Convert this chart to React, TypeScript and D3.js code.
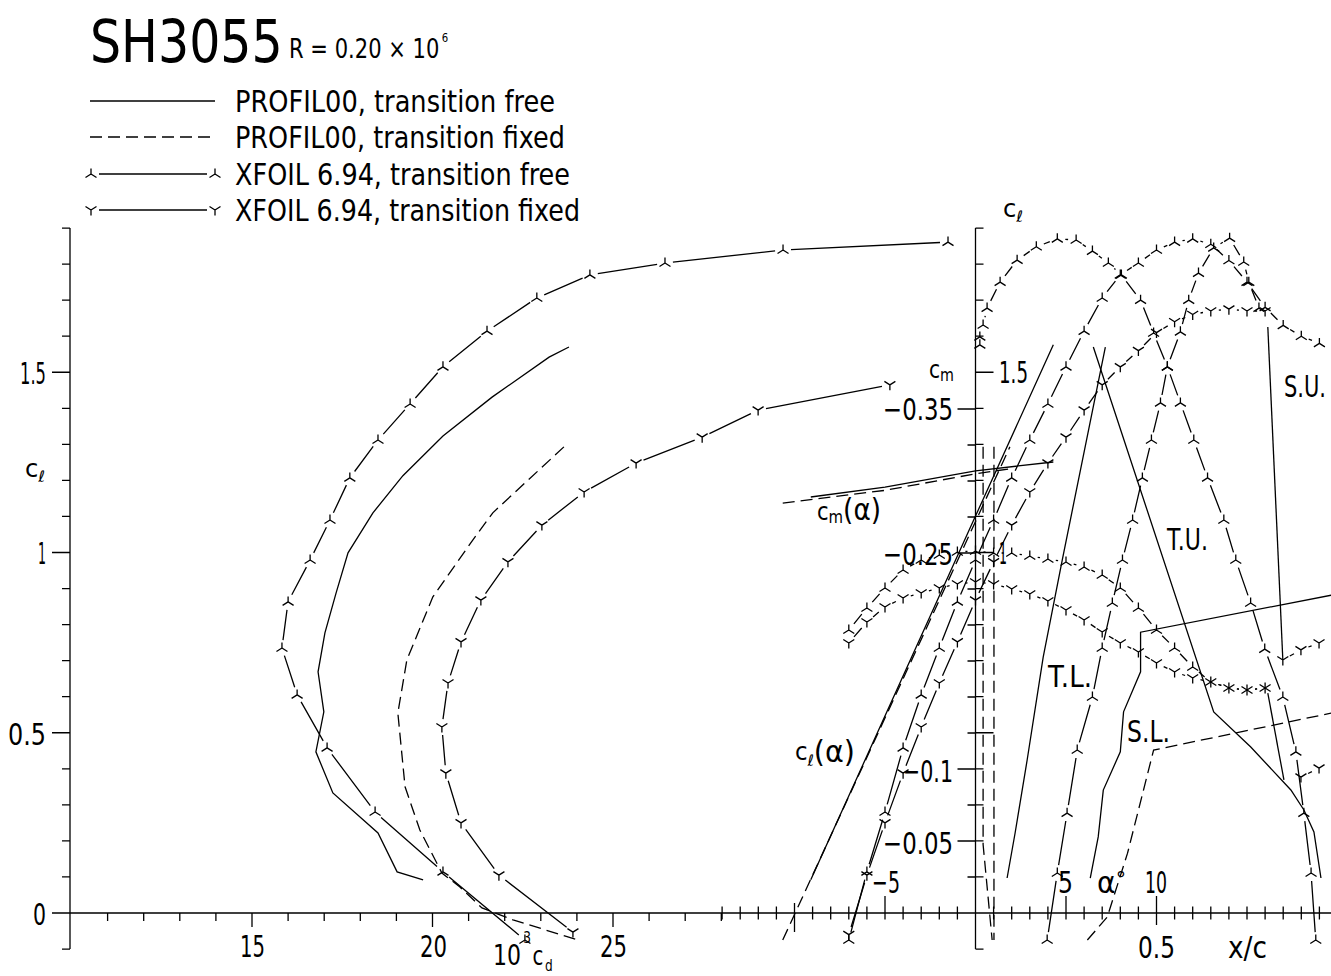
import React from "react";
import * as d3 from "d3";

const FONT = "DejaVu Sans";

// ---------------- DATA ----------------
// Drag polars: 10^3 cd vs cl
const pfFreePolarCd = [23.78, 23.23, 21.65, 20.29, 19.18, 18.35, 17.66, 17.33, 17.02, 16.83, 16.99, 16.77, 17.24, 18.49, 19.02, 19.74];
const pfFreePolarCl = [1.570, 1.542, 1.431, 1.323, 1.213, 1.110, 0.999, 0.888, 0.777, 0.669, 0.558, 0.447, 0.333, 0.222, 0.114, 0.092];

const pfFixPolarCd = [23.64, 21.67, 21.12, 20.01, 19.29, 19.04, 19.24, 19.65, 20.26, 20.76, 21.37, 22.23, 24.03];
const pfFixPolarCl = [1.293, 1.110, 1.035, 0.877, 0.702, 0.555, 0.350, 0.230, 0.111, 0.072, 0.014, -0.019, -0.075];

const xfFreePolarCd = [22.56, 20.29, 18.41, 17.08, 16.25, 15.83, 16.0, 16.61, 17.16, 17.71, 18.49, 19.38, 20.29, 21.51, 22.89, 24.36, 26.44, 29.71, 34.28];
const xfFreePolarCl = [-0.075, 0.114, 0.280, 0.458, 0.605, 0.735, 0.863, 0.979, 1.090, 1.207, 1.312, 1.412, 1.515, 1.614, 1.706, 1.770, 1.803, 1.839, 1.861];

const xfFixPolarCd = [23.89, 21.84, 20.79, 20.37, 20.26, 20.43, 20.79, 21.34, 22.09, 23.03, 24.20, 25.64, 27.47, 29.02, 32.67];
const xfFixPolarCl = [-0.053, 0.105, 0.250, 0.388, 0.516, 0.638, 0.752, 0.868, 0.974, 1.076, 1.168, 1.248, 1.320, 1.395, 1.465];

// Lift curves: alpha (deg) vs cl
const pfFreeAlpha = [-9.1, 0, 4.3];
const pfFreeClA = [0.092, 1.101, 1.576];
const pfFixAlpha = [-10.65, 1.9];
const pfFixClA = [-0.075, 1.293];

const xfFreeAlpha = [-7, -6, -5, -4, -3, -2, -1, 0, 1, 2, 3, 4, 5, 6, 7, 8, 9, 10, 11, 12, 13, 14, 15, 16, 17, 18, 19];
const xfFreeClA = [-0.075, 0.114, 0.280, 0.458, 0.605, 0.735, 0.863, 0.979, 1.090, 1.207, 1.312, 1.412, 1.515, 1.614, 1.706, 1.770, 1.803, 1.839, 1.861, 1.870, 1.855, 1.81, 1.75, 1.68, 1.63, 1.60, 1.58];
const xfFixAlpha = [-7, -6, -5, -4, -3, -2, -1, 0, 1, 2, 3, 4, 5, 6, 7, 8, 9, 10, 11, 12, 13, 14, 15, 16];
const xfFixClA = [-0.06, 0.105, 0.250, 0.388, 0.516, 0.638, 0.752, 0.868, 0.974, 1.076, 1.168, 1.248, 1.320, 1.395, 1.465, 1.515, 1.56, 1.61, 1.64, 1.66, 1.67, 1.675, 1.67, 1.67];

// Moment curves: alpha vs cm
const pfFreeCmAlpha = [-9.1, -5, 0, 4.3];
const pfFreeCm = [-0.2889, -0.2958, -0.3071, -0.3132];
const pfFixCmAlpha = [-10.65, -5, 0, 1.9];
const pfFixCm = [-0.2847, -0.2935, -0.3050, -0.3085];

const xfFreeCmAlpha = [-7, -6, -5, -4, -3, -2, -1, 0, 1, 2, 3, 4, 5, 6, 7, 8, 9, 10, 11, 12, 13, 14, 15, 16];
const xfFreeCm = [-0.1965, -0.2118, -0.2257, -0.2382, -0.2451, -0.2486, -0.2507, -0.2514, -0.2500, -0.2500, -0.2479, -0.2458, -0.2438, -0.2403, -0.2347, -0.2257, -0.2118, -0.1965, -0.1840, -0.1708, -0.1604, -0.1563, -0.1549, -0.1563];
const xfFixCmAlpha = [-7, -6, -5, -4, -3, -2, -1, 0, 1, 2, 3, 4, 5, 6, 7, 8, 9, 10, 11, 12, 13, 14, 15, 16];
const xfFixCm = [-0.1875, -0.2021, -0.2125, -0.2188, -0.2222, -0.2257, -0.2285, -0.2299, -0.2285, -0.2250, -0.2215, -0.2167, -0.2104, -0.2035, -0.1951, -0.1875, -0.1813, -0.1736, -0.1674, -0.1632, -0.1604, -0.1563, -0.1549, -0.1563];

// Transition / separation: x/c vs cl
const pfTUxc = [0.3255, 0.658, 0.7604, 0.8712, 0.9072, 0.9349, 0.9543];
const pfTUcl = [1.570, 0.5576, 0.4605, 0.3412, 0.2857, 0.2247, 0.0971];
const pfTLxc = [0.3587, 0.2396, 0.187, 0.1427, 0.1094, 0.0873];
const pfTLcl = [1.570, 0.979, 0.710, 0.4244, 0.2219, 0.0971];
const pfSUxc = [0.8075, 0.849];
const pfSUcl = [1.6255, 0.702];
const pfSU2xc = [0.8075, 0.852];
const pfSU2cl = [0.610, 0.369];
const pfSLxc = [0.317, 0.339, 0.353, 0.400, 0.409, 0.456, 0.456, 0.985];
const pfSLcl = [0.097, 0.211, 0.341, 0.447, 0.558, 0.669, 0.779, 0.882];
const pfFixSLxc = [0.309, 0.364, 0.420, 0.492, 0.985];
const pfFixSLcl = [-0.075, -0.011, 0.166, 0.452, 0.555];
const pfFixTUxc = [0.021, 0.021, 0.046];
const pfFixTUcl = [1.293, 0.19, -0.075];
const pfFixTLxc = [0.051, 0.051];
const pfFixTLcl = [1.293, -0.075];

const xfTUxc = [0.940, 0.927, 0.907, 0.885, 0.849, 0.799, 0.760, 0.719, 0.686, 0.641, 0.603, 0.566, 0.530, 0.492, 0.456, 0.403, 0.367, 0.323, 0.278, 0.226, 0.168, 0.115, 0.068, 0.032, 0.021, 0.012, 0.012];
const xfTUcl = [-0.075, 0.111, 0.277, 0.447, 0.599, 0.732, 0.860, 0.979, 1.090, 1.207, 1.312, 1.415, 1.515, 1.609, 1.700, 1.770, 1.803, 1.836, 1.867, 1.870, 1.848, 1.811, 1.750, 1.678, 1.631, 1.598, 1.576];
const xfTLxc = [0.198, 0.226, 0.253, 0.281, 0.323, 0.350, 0.378, 0.406, 0.434, 0.461, 0.486, 0.511, 0.530, 0.566, 0.589, 0.616, 0.658, 0.702, 0.741, 0.755, 0.783];
const xfTLcl = [-0.075, 0.111, 0.277, 0.452, 0.599, 0.735, 0.860, 0.979, 1.090, 1.207, 1.312, 1.415, 1.515, 1.612, 1.700, 1.775, 1.845, 1.872, 1.806, 1.750, 1.678];
const xfFixTUxc = [0.849, 0.899, 0.949];
const xfFixTUcl = [0.702, 0.730, 0.749];
const xfFixTLxc = [0.899, 0.949];
const xfFixTLcl = [0.377, 0.402];

const legendLabels = [
  "PROFIL00, transition free",
  "PROFIL00, transition fixed",
  "XFOIL 6.94, transition free",
  "XFOIL 6.94, transition fixed",
];

// ---------------- SCALES ----------------
const xCd = d3.scaleLinear().domain([10, 25]).range([71.5, 613]);
const yCl = d3.scaleLinear().domain([0, 1.5]).range([913, 372.25]);
const xAl = d3.scaleLinear().domain([0, 10]).range([975.5, 1156.5]);
const xXc = d3.scaleLinear().domain([0, 0.5]).range([975.5, 1156.5]);
const yCm = d3.scaleLinear().domain([0, -0.35]).range([913, 409]);

type P = [number, number];
const zip = (xs: number[], ys: number[], sx: (v: number) => number, sy: (v: number) => number): P[] =>
  xs.map((v, i) => [sx(v), sy(ys[i])] as P);

const lineGen = d3.line<P>();

function gapped(pts: P[], g = 8): string {
  let d = "";
  for (let i = 0; i < pts.length - 1; i++) {
    const [x1, y1] = pts[i];
    const [x2, y2] = pts[i + 1];
    const L = Math.hypot(x2 - x1, y2 - y1);
    if (L <= 2 * g + 1) continue;
    const ux = (x2 - x1) / L;
    const uy = (y2 - y1) / L;
    d += `M${(x1 + ux * g).toFixed(1)},${(y1 + uy * g).toFixed(1)}L${(x2 - ux * g).toFixed(1)},${(y2 - uy * g).toFixed(1)}`;
  }
  return d;
}

function marker(x: number, y: number, free: boolean): string {
  if (free)
    return `M${x},${y}V${y - 5.5}M${x},${y}L${x - 5.5},${y + 3.5}M${x},${y}L${x + 5.5},${y + 3.5}`;
  return `M${x},${y}V${y + 5.5}M${x},${y}L${x - 5.5},${y - 3.5}M${x},${y}L${x + 5.5},${y - 3.5}`;
}

const SW = 1.3;

function Solid({ pts }: { pts: P[] }) {
  return <path d={lineGen(pts) || ""} fill="none" stroke="#000" strokeWidth={SW} />;
}
function Dashed({ pts }: { pts: P[] }) {
  return <path d={lineGen(pts) || ""} fill="none" stroke="#000" strokeWidth={SW} strokeDasharray="12 6" />;
}
function Xfoil({ pts, free }: { pts: P[]; free: boolean }) {
  return (
    <g>
      <path d={gapped(pts)} fill="none" stroke="#000" strokeWidth={SW} />
      <path d={pts.map(([x, y]) => marker(x, y, free)).join("")} fill="none" stroke="#000" strokeWidth={SW} />
    </g>
  );
}

function T({ x, y, w, s, children }: { x: number; y: number; w: number; s: number; children: React.ReactNode }) {
  return (
    <text x={x} y={y} fontSize={s} fontFamily={FONT} textLength={w} lengthAdjust="spacingAndGlyphs" fill="#000">
      {children}
    </text>
  );
}

export default function App() {
  const leftX = 70;
  const rightX = xAl(0);
  const y0 = yCl(0);

  const clTicks = d3.range(-1, 20).map((i) => i / 10);
  const cdTicks = d3.range(11, 29);
  const alTicks = d3.range(-14, 20).filter((a) => a !== 0);
  const cmTicks = d3.range(1, 15).map((i) => -0.025 * i);

  let axes = "";
  axes += `M${leftX},${yCl(1.9)}V${yCl(-0.1)}`;
  clTicks.forEach((v, i) => {
    const major = [1, 6, 11, 16].includes(i);
    const y = yCl(v);
    axes += `M${leftX - (major ? 18 : 8)},${y}H${leftX}`;
  });
  axes += `M${leftX},${y0}H1331`;
  cdTicks.forEach((v) => {
    const major = v % 5 === 0;
    axes += `M${xCd(v)},${y0}V${y0 + (major ? 14 : 8)}`;
  });
  alTicks.forEach((a) => {
    const x = xAl(a);
    let y1 = y0 - 6.5, y2 = y0 + 6.5;
    if (a === -10) { y1 = y0 - 10; y2 = y0 + 19; }
    if (a === -5 || a === 5) { y1 = y0 - 17; y2 = y0 + 6.5; }
    if (a === 10) { y1 = y0 - 17; y2 = y0 + 12; }
    axes += `M${x},${y1}V${y2}`;
  });
  axes += `M${rightX},${yCl(1.9)}V${yCl(-0.1)}`;
  clTicks.forEach((v, i) => {
    const major = [6, 11, 16].includes(i);
    const y = yCl(v);
    axes += `M${rightX},${y}H${rightX + (major ? 18 : 8)}`;
  });
  cmTicks.forEach((v, i) => {
    const major = [1, 3, 9, 13].includes(i);
    const y = yCm(v);
    axes += `M${rightX - (major ? 18 : 8)},${y}H${rightX}`;
  });

  const legendY = [101, 137, 174, 210];
  const legendW = [320, 330, 335, 345];

  return (
    <svg
      width={1331}
      height={976}
      viewBox="0 0 1331 976"
      style={{ position: "absolute", left: 0, top: 0, display: "block", background: "#fff" }}
    >
      <rect x={0} y={0} width={1331} height={976} fill="#fff" />

      {/* Title */}
      <text transform="translate(90,62) scale(0.845,1)" fontSize={58} fontFamily={FONT} fill="#000">SH3055</text>
      <text transform="translate(289,58) scale(0.78,1)" fontSize={27} fontFamily={FONT} fill="#000">
        R = 0.20 × 10<tspan dx={3} dy={-16} fontSize={13}>6</tspan>
      </text>

      {/* Legend */}
      <path d={`M90,${legendY[0]}H215`} stroke="#000" strokeWidth={SW} />
      <path d={`M90,${legendY[1]}H215`} stroke="#000" strokeWidth={SW} strokeDasharray="12 6" />
      <Xfoil pts={[[91, legendY[2]], [215, legendY[2]]]} free={true} />
      <Xfoil pts={[[91, legendY[3]], [215, legendY[3]]]} free={false} />
      {legendLabels.map((l, i) => (
        <T key={l} x={235} y={legendY[i] + 11} w={legendW[i]} s={30}>{l}</T>
      ))}

      {/* Axes */}
      <path d={axes} fill="none" stroke="#000" strokeWidth={SW} />

      {/* Left axis labels */}
      <T x={20} y={384} w={26} s={31}>1.5</T>
      <T x={38} y={564} w={8} s={31}>1</T>
      <T x={8} y={745} w={38} s={31}>0.5</T>
      <T x={33} y={925} w={13} s={31}>0</T>
      <text x={25} y={477} fontSize={24} fontFamily={FONT} fill="#000" textLength={20} lengthAdjust="spacingAndGlyphs">
        c<tspan dy={5} fontSize={16}>ℓ</tspan>
      </text>

      {/* Bottom labels */}
      <T x={240} y={957} w={25} s={31}>15</T>
      <T x={420} y={957} w={27} s={31}>20</T>
      <T x={600} y={957} w={27} s={31}>25</T>
      <text transform="translate(493,965) scale(0.76,1)" fontSize={29} fontFamily={FONT} fill="#000">
        10<tspan dx={3} dy={-22} fontSize={16}>3</tspan>
        <tspan dx={2} dy={22} fontSize={26}>c</tspan>
        <tspan dx={2} dy={6} fontSize={16}>d</tspan>
      </text>

      {/* Right axis labels */}
      <text x={1003} y={217} fontSize={24} fontFamily={FONT} fill="#000" textLength={20} lengthAdjust="spacingAndGlyphs">
        c<tspan dy={5} fontSize={16}>ℓ</tspan>
      </text>
      <text x={929} y={378} fontSize={24} fontFamily={FONT} fill="#000" textLength={25} lengthAdjust="spacingAndGlyphs">
        c<tspan dy={3} fontSize={17}>m</tspan>
      </text>
      <T x={999} y={383} w={29} s={31}>1.5</T>
      <T x={999} y={564} w={8} s={31}>1</T>
      <T x={883} y={420} w={70} s={31}>−0.35</T>
      <T x={883} y={565} w={70} s={31}>−0.25</T>
      <T x={903} y={782} w={50} s={31}>−0.1</T>
      <T x={883} y={854} w={70} s={31}>−0.05</T>
      <T x={872} y={893} w={28} s={31}>−5</T>
      <T x={1058} y={893} w={15} s={31}>5</T>
      <text x={1097} y={893} fontSize={30} fontFamily={FONT} fill="#000" textLength={29} lengthAdjust="spacingAndGlyphs">
        α<tspan dy={-6} fontSize={22}>°</tspan>
      </text>
      <T x={1145} y={893} w={22} s={31}>10</T>
      <T x={1138} y={958} w={37} s={31}>0.5</T>
      <T x={1228} y={958} w={39} s={31}>x/c</T>

      {/* curve labels */}
      <text x={817} y={520} fontSize={24} fontFamily={FONT} fill="#000" textLength={64} lengthAdjust="spacingAndGlyphs">
        c<tspan dy={3} fontSize={17}>m</tspan>
        <tspan dy={-3} fontSize={30}>(α)</tspan>
      </text>
      <text x={795} y={760} fontSize={24} fontFamily={FONT} fill="#000" textLength={60} lengthAdjust="spacingAndGlyphs">
        c<tspan dy={6} fontSize={16}>ℓ</tspan>
        <tspan dy={-4} fontSize={30}>(α)</tspan>
      </text>
      <T x={1048} y={687} w={44} s={30}>T.L.</T>
      <T x={1127} y={742} w={43} s={30}>S.L.</T>
      <T x={1167} y={550} w={41} s={30}>T.U.</T>
      <text transform="translate(1284,397) scale(0.7,1)" fontSize={30} fontFamily={FONT} fill="#000">S.U.</text>

      {/* Drag polars */}
      <Solid pts={zip(pfFreePolarCd, pfFreePolarCl, xCd, yCl)} />
      <Dashed pts={zip(pfFixPolarCd, pfFixPolarCl, xCd, yCl)} />
      <Xfoil pts={zip(xfFreePolarCd, xfFreePolarCl, xCd, yCl)} free={true} />
      <Xfoil pts={zip(xfFixPolarCd, xfFixPolarCl, xCd, yCl)} free={false} />

      {/* Lift curves */}
      <Solid pts={zip(pfFreeAlpha, pfFreeClA, xAl, yCl)} />
      <Dashed pts={zip(pfFixAlpha, pfFixClA, xAl, yCl)} />
      <Xfoil pts={zip(xfFreeAlpha, xfFreeClA, xAl, yCl)} free={true} />
      <Xfoil pts={zip(xfFixAlpha, xfFixClA, xAl, yCl)} free={false} />

      {/* Moment curves */}
      <Solid pts={zip(pfFreeCmAlpha, pfFreeCm, xAl, yCm)} />
      <Dashed pts={zip(pfFixCmAlpha, pfFixCm, xAl, yCm)} />
      <Xfoil pts={zip(xfFreeCmAlpha, xfFreeCm, xAl, yCm)} free={true} />
      <Xfoil pts={zip(xfFixCmAlpha, xfFixCm, xAl, yCm)} free={false} />

      {/* Transition & separation */}
      <Solid pts={zip(pfTUxc, pfTUcl, xXc, yCl)} />
      <Solid pts={zip(pfTLxc, pfTLcl, xXc, yCl)} />
      <Solid pts={zip(pfSUxc, pfSUcl, xXc, yCl)} />
      <Solid pts={zip(pfSU2xc, pfSU2cl, xXc, yCl)} />
      <Solid pts={zip(pfSLxc, pfSLcl, xXc, yCl)} />
      <Dashed pts={zip(pfFixSLxc, pfFixSLcl, xXc, yCl)} />
      <Dashed pts={zip(pfFixTUxc, pfFixTUcl, xXc, yCl)} />
      <Dashed pts={zip(pfFixTLxc, pfFixTLcl, xXc, yCl)} />
      <Xfoil pts={zip(xfTUxc, xfTUcl, xXc, yCl)} free={true} />
      <Xfoil pts={zip(xfTLxc, xfTLcl, xXc, yCl)} free={true} />
      <Xfoil pts={zip(xfFixTUxc, xfFixTUcl, xXc, yCl)} free={false} />
      <Xfoil pts={zip(xfFixTLxc, xfFixTLcl, xXc, yCl)} free={false} />
    </svg>
  );
}
